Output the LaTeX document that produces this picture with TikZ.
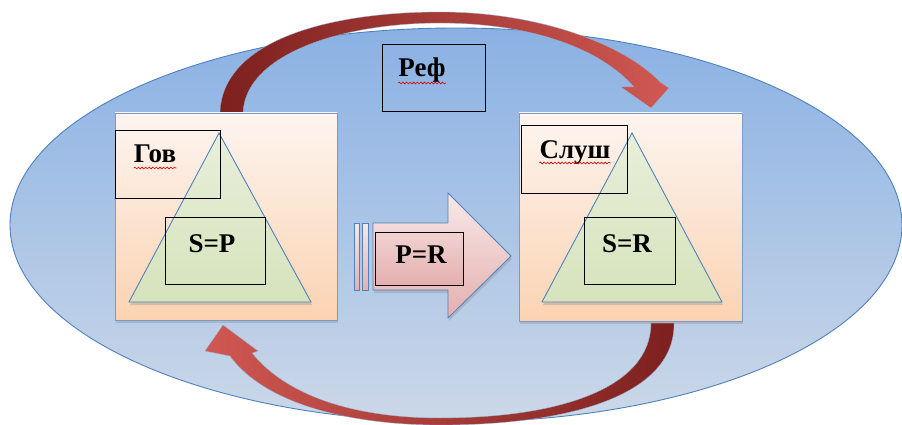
\documentclass[tikz,border=0pt]{standalone}
\usepackage{fontspec}
\setmainfont{Liberation Serif}
\newfontfamily\tnrfont{Liberation Serif}
\usetikzlibrary{shadows,decorations.pathmorphing}
\definecolor{elltop}{RGB}{138,177,228}
\definecolor{ellbot}{RGB}{204,216,232}
\definecolor{elline}{RGB}{79,129,189}
\definecolor{peachtop}{RGB}{253,245,240}
\definecolor{peachbot}{RGB}{251,211,178}
\definecolor{panelline}{RGB}{120,155,200}
\definecolor{tritop}{RGB}{232,239,218}
\definecolor{tribot}{RGB}{214,227,188}
\definecolor{pinktop}{RGB}{248,232,232}
\definecolor{pinkbot}{RGB}{228,176,175}
\definecolor{arrdark}{RGB}{125,32,30}
\definecolor{arrlight}{RGB}{208,88,82}
\begin{document}
\begin{tikzpicture}[x=1pt,y=-1pt,
  softshadow/.style={drop shadow={opacity=0.3,shadow xshift=1pt,shadow yshift=-3pt}},
  panel/.style={draw=panelline,line width=0.8pt,top color=peachtop,bottom color=peachbot,softshadow,inner sep=0pt},
  tri/.style={draw=elline,line width=0.9pt,top color=tritop,bottom color=tribot,softshadow},
  tbox/.style={draw=black,line width=1pt,inner sep=0pt},
  txt/.style={font=\tnrfont\fontsize{27}{30}\selectfont\bfseries,inner sep=0pt,anchor=base},
  spell/.style={draw=red!85!black,line width=0.6pt,decorate,decoration={snake,amplitude=0.9pt,segment length=3.6pt}},
  bigarrow/.style={draw=elline,line width=0.8pt,top color=pinktop,bottom color=pinkbot},
  curvarrow/.style={draw=elline!60,line width=0.3pt}]
\useasboundingbox (0,0) rectangle (902,425);
\fill[white] (0,0) rectangle (902,425);
% big ellipse
\path[draw=elline,line width=0.9pt,top color=elltop,bottom color=ellbot] (456,225) ellipse [x radius=446,y radius=197];
% top curved arrow
\path[curvarrow,left color=arrdark,right color=arrlight]
  (220,113) .. controls (222,40) and (330,12) .. (440,12)
  .. controls (540,12) and (625,45) .. (660,82)
  -- (669,88) -- (651,108) -- (621,87) -- (634,87)
  .. controls (600,48) and (530,23) .. (440,23)
  .. controls (340,23) and (245,55) .. (243,113) -- cycle;
% bottom curved arrow
\path[curvarrow,left color=arrlight,right color=arrdark]
  (651,323) .. controls (651,388) and (560,418) .. (440,418)
  .. controls (350,418) and (285,394) .. (252,353)
  -- (258,351) -- (223,325) -- (205,351) -- (230,356)
  .. controls (265,404) and (350,425) .. (440,425)
  .. controls (565,425) and (675,397) .. (674,323) -- cycle;
% panels
\node[panel,minimum width=222pt,minimum height=207pt] (govpanel) at (226,216.5) {};
\node[panel,minimum width=223pt,minimum height=208pt] (slpanel) at (630.5,217) {};
% triangles
\path[tri] (219,133) -- (311,302) -- (129,302) -- cycle;
\path[tri] (632,133) -- (722,302) -- (542,302) -- cycle;
% central arrow
\path[bigarrow] (354,223) rectangle (359,290);
\path[bigarrow] (362,223) rectangle (368,290);
\path[bigarrow,softshadow] (373,223) -- (448,223) -- (448,193) -- (511,256) -- (448,318) -- (448,290) -- (373,290) -- cycle;
% text boxes
\node[tbox,minimum width=105pt,minimum height=67pt] (govbox) at (167.5,164.5) {};
\node[tbox,minimum width=100pt,minimum height=67pt] (spbox) at (215,250.5) {};
\node[tbox,minimum width=106pt,minimum height=67pt] (slbox) at (574,159.5) {};
\node[tbox,minimum width=91pt,minimum height=67pt] (srbox) at (629.5,250.5) {};
\node[tbox,minimum width=88pt,minimum height=53pt,top color=pinktop!60!pinkbot,bottom color=pinkbot] (prbox) at (419,258.5) {};
\node[tbox,minimum width=103pt,minimum height=67pt] (refbox) at (433.5,78.5) {};
% texts
\node[txt] (gov) at (155,163) {Гов};
\node[txt] (sp) at (212,252) {S=P};
\node[txt] (sl) at (575,158) {Слуш};
\node[txt] (sr) at (627,252) {S=R};
\node[txt] (pr) at (421,263) {P=R};
\node[txt] (ref) at (422,77) {Реф};
% spell-check underlines
\draw[spell] ([yshift=-5pt]gov.base west) -- ([yshift=-5pt]gov.base east);
\draw[spell] ([yshift=-5pt]sl.base west) -- ([yshift=-5pt]sl.base east);
\draw[spell] ([yshift=-6pt]ref.base west) -- ([yshift=-6pt]ref.base east);
\end{tikzpicture}
\end{document}
